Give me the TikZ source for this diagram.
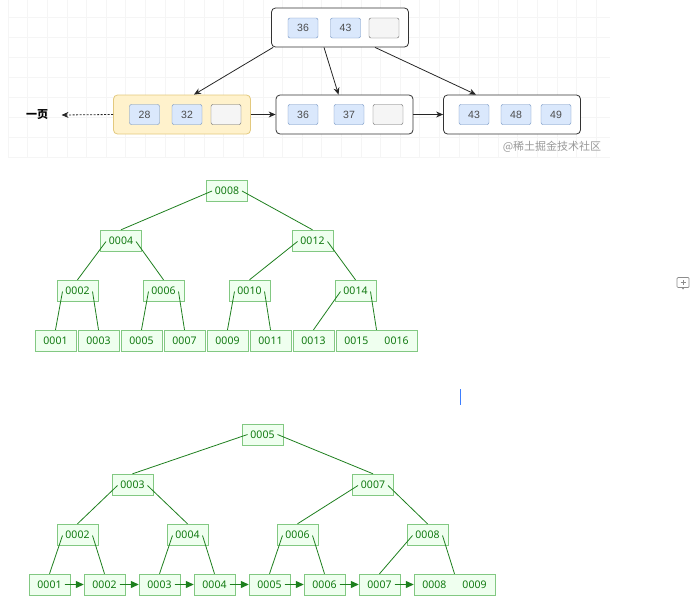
\documentclass[tikz,border=0pt]{standalone}
\usepackage{fontspec}
\setmainfont{Liberation Sans}
\newfontfamily\treefont{Noto Sans}
\newfontfamily\cjk{Noto Sans CJK SC}
\usetikzlibrary{arrows.meta,positioning}

\definecolor{cellblue}{HTML}{DAE8FC}
\definecolor{cellline}{HTML}{6C8EBF}
\definecolor{emptyfill}{HTML}{F5F5F5}
\definecolor{pageyellow}{HTML}{FFF2CC}
\definecolor{pageline}{HTML}{E3C97E}
\definecolor{treefill}{HTML}{EFFFEF}
\definecolor{treeline}{HTML}{82C882}
\definecolor{treetext}{HTML}{127A12}
\definecolor{treeedge}{HTML}{1E7F1E}
\definecolor{cursorblue}{HTML}{3D7EFF}

\begin{document}
\begin{tikzpicture}[
  x=1pt, y=-1pt,
  gridline/.style={draw=black!4, line width=0.5pt},
  page/.style={draw=black!80, line width=0.8pt, rounded corners=4pt, fill=white, minimum width=137pt, minimum height=39pt},
  leftpage/.style={page, draw=pageline, fill=pageyellow},
  keycell/.style={draw=cellline, fill=cellblue, rounded corners=2pt, minimum width=30pt, minimum height=20pt, inner sep=0pt, text=black!70, font=\fontsize{10.5}{12}\selectfont},
  emptycell/.style={keycell, draw=black!60, fill=emptyfill},
  arr/.style={-{Stealth[length=7pt, width=6pt]}, line width=0.8pt, black!85},
  sep/.style={arr, dash pattern=on 2pt off 1.5pt},
  tnode/.style={draw=treeline, fill=treefill, text=treetext, minimum width=41pt, minimum height=21pt, inner sep=0pt, font=\treefont\fontsize{10.5}{12}\selectfont},
  wide/.style={tnode, minimum width=81pt},
  tedge/.style={draw=treeedge, line width=0.8pt},
  larr/.style={-{Triangle[length=8pt, width=7pt]}, draw=treeedge, fill=treeedge, line width=1.2pt}
]
\useasboundingbox (0,0) rectangle (696,605);

% grid behind the page picture
\foreach \gx in {8,27.6,...,610} \draw[gridline] (\gx,0) -- (\gx,158);
\foreach \gy in {17,37,...,157} \draw[gridline] (8,\gy) -- (610,\gy);

% pages
\node[page] (root) at (340,27.5) {};
\node[keycell] (r1) at (303,28) {36};
\node[keycell] (r2) at (345.5,28) {43};
\node[emptycell] (r3) at (384,28) {};

\node[leftpage] (pA) at (182,114.5) {};
\node[keycell] (a1) at (144.5,114.5) {28};
\node[keycell] (a2) at (187,114.5) {32};
\node[emptycell] (a3) at (226,114.5) {};

\node[page] (pB) at (344.5,114.5) {};
\node[keycell] (b1) at (303,114.5) {36};
\node[keycell] (b2) at (349,114.5) {37};
\node[emptycell] (b3) at (388,114.5) {};

\node[page] (pC) at (512,114.5) {};
\node[keycell] (c1) at (474,114.5) {43};
\node[keycell] (c2) at (516,114.5) {48};
\node[keycell] (c3) at (556,114.5) {49};

\node[font=\cjk\bfseries\fontsize{11}{12}\selectfont] (prev) at (37,115) {一页};
\node[font=\cjk\fontsize{11}{12}\selectfont, text=black!40] (mark) at (552,146.5) {@稀土掘金技术社区};

\draw[arr] ([xshift=2pt]root.south west) -- ([xshift=12pt]pA.north);
\draw[arr] ([xshift=-16pt]root.south) -- ([xshift=-6pt]pB.north);
\draw[arr] ([xshift=35pt]root.south) -- ([xshift=-36pt]pC.north);
\draw[arr] (pA.east) -- (pB.west);
\draw[arr] (pB.east) -- (pC.west);
\draw[sep] (pA.west) -- ([xshift=10pt]prev.east);

% binary tree 0001-0016
\node[tnode] (n8) at (227,191) {0008};
\node[tnode] (n4) at (121,240.5) {0004};
\node[tnode] (n12) at (312.5,240.5) {0012};
\node[tnode] (n2) at (77.5,290.5) {0002};
\node[tnode] (n6) at (163.5,290.5) {0006};
\node[tnode] (n10) at (249.5,290.5) {0010};
\node[tnode] (n14) at (355.5,290.5) {0014};
\node[tnode] (n1) at (55.5,340.5) {0001};
\node[tnode] (n3) at (98.5,340.5) {0003};
\node[tnode] (n5) at (141.5,340.5) {0005};
\node[tnode] (n7) at (184.5,340.5) {0007};
\node[tnode] (n9) at (227.5,340.5) {0009};
\node[tnode] (n11) at (270.5,340.5) {0011};
\node[tnode] (n13) at (313.5,340.5) {0013};
\node[wide] (n15) at (376.5,340.5) {0015\hspace{16pt}0016};

\draw[tedge] ([xshift=-15pt]n8.center) -- (n4.north);
\draw[tedge] ([xshift=15pt]n8.center) -- (n12.north);
\foreach \p/\l/\r in {n4/n2/n6, n12/n10/n14, n2/n1/n3, n6/n5/n7, n10/n9/n11, n14/n13/n15} {
  \draw[tedge] ([xshift=-15pt, yshift=-1pt]\p.center) -- (\l.north);
  \draw[tedge] ([xshift=15pt, yshift=-1pt]\p.center) -- (\r.north);
}

% B+ tree 0001-0009
\node[tnode] (m5) at (262.5,434.5) {0005};
\node[tnode] (m3) at (132.5,484.5) {0003};
\node[tnode] (m7) at (373,484.5) {0007};
\node[tnode] (m2) at (77.5,534.5) {0002};
\node[tnode] (m4) at (187.5,534.5) {0004};
\node[tnode] (m6) at (297.5,534.5) {0006};
\node[tnode] (m8) at (427.5,534.5) {0008};
\node[tnode] (l1) at (49.5,584.5) {0001};
\node[tnode] (l2) at (104.5,584.5) {0002};
\node[tnode] (l3) at (159.5,584.5) {0003};
\node[tnode] (l4) at (214.5,584.5) {0004};
\node[tnode] (l5) at (269.5,584.5) {0005};
\node[tnode] (l6) at (324.5,584.5) {0006};
\node[tnode] (l7) at (379.5,584.5) {0007};
\node[wide] (l8) at (454.5,584.5) {0008\hspace{16pt}0009};

\draw[tedge] ([xshift=-15pt]m5.center) -- (m3.north);
\draw[tedge] ([xshift=15pt]m5.center) -- (m7.north);
\foreach \p/\l/\r in {m3/m2/m4, m7/m6/m8, m2/l1/l2, m4/l3/l4, m6/l5/l6, m8/l7/l8} {
  \draw[tedge] ([xshift=-15pt, yshift=-1pt]\p.center) -- (\l.north);
  \draw[tedge] ([xshift=15pt, yshift=-1pt]\p.center) -- (\r.north);
}
\foreach \a/\b in {l1/l2, l2/l3, l3/l4, l4/l5, l5/l6, l6/l7, l7/l8}
  \draw[larr] ([xshift=15pt]\a.center) -- (\b.west);

% editor marks
\draw[draw=cursorblue, line width=1.2pt] (460.5,389) -- (460.5,405);
\draw[black!45, line width=0.7pt, rounded corners=1pt] (677,277.5) rectangle (689,287.5);
\draw[black!45, line width=0.7pt] (683,280) -- (683,285) (680.5,282.5) -- (685.5,282.5);
\draw[black!45, line width=0.7pt] (682,287.5) -- (683,289) -- (684,287.5);
\end{tikzpicture}
\end{document}
